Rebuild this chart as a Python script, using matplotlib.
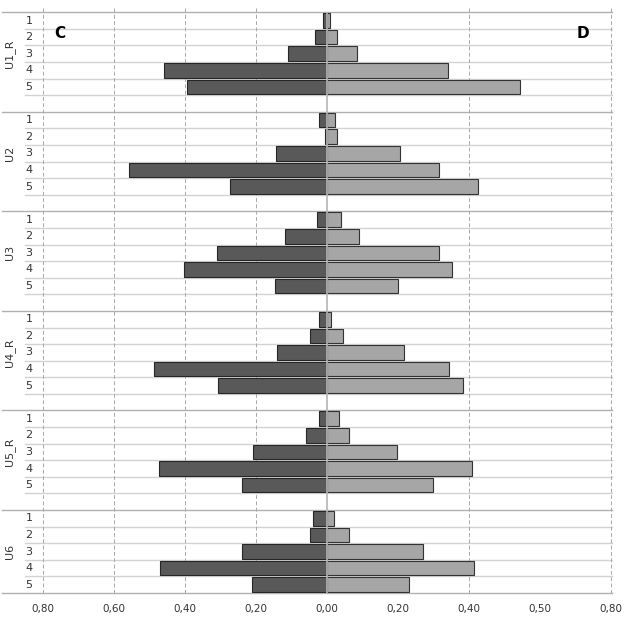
import numpy as np
from matplotlib import pyplot as plt
from matplotlib import transforms

groups = ["U1_R", "U2", "U3", "U4_R", "U5_R", "U6"]
levels = ["1", "2", "3", "4", "5"]

# left side (C), read as positive shares
c_vals = [
    [0.010, 0.032, 0.108, 0.457, 0.393],
    [0.021, 0.004, 0.143, 0.557, 0.272],
    [0.026, 0.117, 0.308, 0.401, 0.145],
    [0.021, 0.046, 0.139, 0.487, 0.305],
    [0.021, 0.058, 0.208, 0.471, 0.240],
    [0.038, 0.046, 0.238, 0.469, 0.210],
]
# right side (D)
d_vals = [
    [0.008, 0.030, 0.085, 0.341, 0.545],
    [0.023, 0.030, 0.207, 0.317, 0.427],
    [0.040, 0.091, 0.317, 0.354, 0.202],
    [0.011, 0.047, 0.219, 0.345, 0.385],
    [0.036, 0.064, 0.199, 0.410, 0.300],
    [0.021, 0.064, 0.272, 0.414, 0.233],
]

tick_pos = [-0.8, -0.6, -0.4, -0.2, 0.0, 0.2, 0.4, 0.6, 0.8]
tick_labels = ["0,80", "0,60", "0,40", "0,20", "0,00", "0,20", "0,40", "0,50", "0,80"]

W, H = 630, 631
fig = plt.figure(figsize=(W / 100, H / 100), dpi=100)
ax = fig.add_axes([42.7 / W, 1 - 593 / H, (610.7 - 42.7) / W, (593 - 12.3) / H])

n_rows = len(groups) * 6 - 1
ys = []
for g in range(len(groups)):
    for k in range(len(levels)):
        ys.append(g * 6 + k)
ys = np.array(ys)
c_flat = np.array(c_vals).ravel()
d_flat = np.array(d_vals).ravel()

ax.barh(ys, -c_flat, height=0.88, color="#595959", edgecolor="#262626", linewidth=0.8, zorder=2)
ax.barh(ys, d_flat, height=0.88, color="#a6a6a6", edgecolor="#333333", linewidth=0.8, zorder=2)

ax.set_xlim(-0.8, 0.8)
ax.set_ylim(n_rows - 0.5, -0.5)

# dashed vertical gridlines (left chart every 0.2, right chart every 0.4)
for x in [-0.8, -0.6, -0.4, -0.2, 0.4, 0.8]:
    ax.plot([x, x], [-0.75, n_rows - 0.5], color="#a8a8a8", lw=0.7,
            linestyle=(0, (4, 2.5)), zorder=1, clip_on=False)
ax.axvline(0, color="#b5b5b5", lw=1.2, zorder=3)

# horizontal lines: row lines start at the category column, group lines span everything
trans = transforms.blended_transform_factory(fig.transFigure, ax.transData)
for i in range(n_rows + 1):
    y = i - 0.5
    if i % 6 == 0 or i == n_rows:
        x0, col = 2 / W, "#b0b0b0"
    else:
        x0, col = 25 / W, "#d2d2d2"
    ax.plot([x0, 612 / W], [y, y], transform=trans, color=col, lw=1.0,
            zorder=0, clip_on=False)

# category labels
for g, name in enumerate(groups):
    for k, lv in enumerate(levels):
        ax.text(29 / W, g * 6 + k, lv, transform=trans, fontsize=8,
                ha="center", va="center", color="#333333")
    ax.text(10 / W, g * 6 + 2, name, transform=trans, fontsize=8,
            ha="center", va="center", rotation=90, color="#333333")

ax.set_xticks(tick_pos)
ax.set_xticklabels(tick_labels, fontsize=7.5, color="#333333")
ax.tick_params(axis="x", length=0, pad=8)
ax.set_yticks([])
for s in ax.spines.values():
    s.set_visible(False)

fig.text(60 / W, 1 - 33 / H, "C", fontsize=11, fontweight="bold", ha="center", va="center")
fig.text(583 / W, 1 - 33 / H, "D", fontsize=11, fontweight="bold", ha="center", va="center")

fig.savefig("out.png", dpi=100)
